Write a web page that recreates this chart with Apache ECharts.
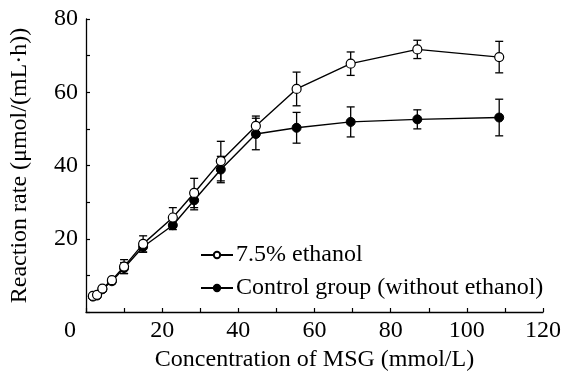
<!DOCTYPE html>
<html>
<head>
<meta charset="utf-8">
<script src="https://cdn.jsdelivr.net/npm/echarts@6/dist/echarts.min.js"></script>
<style>
  html, body { margin: 0; padding: 0; background: #fff; }
  #chart { width: 564px; height: 376px; }
</style>
</head>
<body>
<div id="chart"></div>
<script>
// MSG concentration (mmol/L)
const msg = [1.8, 2.9, 4.3, 6.8, 10.0, 15.0, 22.8, 28.4, 35.4, 44.6, 55.3, 69.5, 87.0, 108.5];
// Reaction rate, µmol/(mL·h)
const ethanolRate = [4.4, 4.7, 6.4, 8.7, 12.4, 18.6, 25.8, 32.5, 41.2, 50.8, 60.9, 67.8, 71.7, 69.6];
const ethanolErr  = [0.5, 0.6, 0.6, 0.7, 1.9, 2.2, 2.7, 4.0, 5.4, 2.7, 4.6, 3.2, 2.5, 4.3];
const controlRate = [4.2, 4.5, 6.2, 8.4, 12.0, 17.8, 23.7, 30.5, 38.9, 48.6, 50.3, 51.9, 52.6, 53.1];
const controlErr  = [0.5, 0.5, 0.6, 0.7, 1.5, 1.5, 1.2, 2.6, 3.6, 4.3, 4.2, 4.1, 2.6, 5.0];

const seriesNames = ['7.5% ethanol', 'Control group (without ethanol)'];
const FONT = '"Liberation Serif", "Times New Roman", serif';

const pairs = (ys) => msg.map((x, i) => [x, ys[i]]);
const bars = (ys, es) => msg.map((x, i) => [x, ys[i] - es[i], ys[i] + es[i]]);

function renderErrorBar(params, api) {
  const x = api.value(0);
  const top = api.coord([x, api.value(2)]);
  const bot = api.coord([x, api.value(1)]);
  const cap = 4;
  const style = { stroke: '#000', lineWidth: 1.3 };
  return {
    type: 'group',
    children: [
      { type: 'line', shape: { x1: top[0], y1: top[1], x2: bot[0], y2: bot[1] }, style },
      { type: 'line', shape: { x1: top[0] - cap, y1: top[1], x2: top[0] + cap, y2: top[1] }, style },
      { type: 'line', shape: { x1: bot[0] - cap, y1: bot[1], x2: bot[0] + cap, y2: bot[1] }, style }
    ]
  };
}

const chart = echarts.init(document.getElementById('chart'), null, { renderer: 'canvas' });

const axisCommon = {
  axisLine: { show: true, lineStyle: { color: '#000', width: 1.3 } },
  axisTick: { show: true, inside: true, length: 4, lineStyle: { color: '#000', width: 1.2 } },
  minorTick: { show: true, splitNumber: 2, length: 4, lineStyle: { color: '#000', width: 1.2 } },
  splitLine: { show: false },
  nameTextStyle: { fontFamily: FONT, fontSize: 24, color: '#000' }
};

chart.setOption({
  animation: false,
  backgroundColor: '#fff',
  grid: { left: 86, right: 21, top: 19, bottom: 64, containLabel: false, outerBoundsMode: 'none' },
  xAxis: Object.assign({}, axisCommon, {
    type: 'value',
    min: 0, max: 120, interval: 20,
    name: 'Concentration of MSG (mmol/L)',
    nameLocation: 'middle',
    nameGap: 35,
    axisLabel: {
      fontFamily: FONT, fontSize: 24, color: '#000', margin: 7,
      formatter: (v) => v === 0 ? '{z|0}' : String(v),
      rich: { z: { fontFamily: FONT, fontSize: 24, color: '#000', padding: [0, 32, 0, 0] } }
    }
  }),
  yAxis: Object.assign({}, axisCommon, {
    type: 'value',
    min: 0, max: 80, interval: 20,
    name: 'Reaction rate (μmol/(mL·h))',
    nameLocation: 'middle',
    nameGap: 54,
    axisLabel: {
      fontFamily: FONT, fontSize: 24, color: '#000', margin: 8,
      showMinLabel: false
    }
  }),
  legend: {
    orient: 'vertical',
    left: 195,
    top: 238,
    itemWidth: 32,
    itemHeight: 8,
    itemGap: 9,
    data: seriesNames,
    textStyle: { fontFamily: FONT, fontSize: 24, color: '#000', padding: [0, 0, 0, -2] }
  },
  series: [
    {
      type: 'custom', name: 'ethanol-err', z: 1,
      renderItem: renderErrorBar,
      encode: { x: 0, y: [1, 2] },
      data: bars(ethanolRate, ethanolErr)
    },
    {
      type: 'custom', name: 'control-err', z: 1,
      renderItem: renderErrorBar,
      encode: { x: 0, y: [1, 2] },
      data: bars(controlRate, controlErr)
    },
    {
      type: 'line', name: seriesNames[1], z: 3,
      data: pairs(controlRate),
      symbol: 'circle', symbolSize: 9, showAllSymbol: true,
      lineStyle: { color: '#000', width: 1.4 },
      itemStyle: { color: '#000', borderColor: '#000', borderWidth: 1 }
    },
    {
      type: 'line', name: seriesNames[0], z: 4,
      data: pairs(ethanolRate),
      symbol: 'circle', symbolSize: 9, showAllSymbol: true,
      lineStyle: { color: '#000', width: 1.4 },
      itemStyle: { color: '#fff', borderColor: '#000', borderWidth: 1.2 }
    }
  ]
});
</script>
</body>
</html>
